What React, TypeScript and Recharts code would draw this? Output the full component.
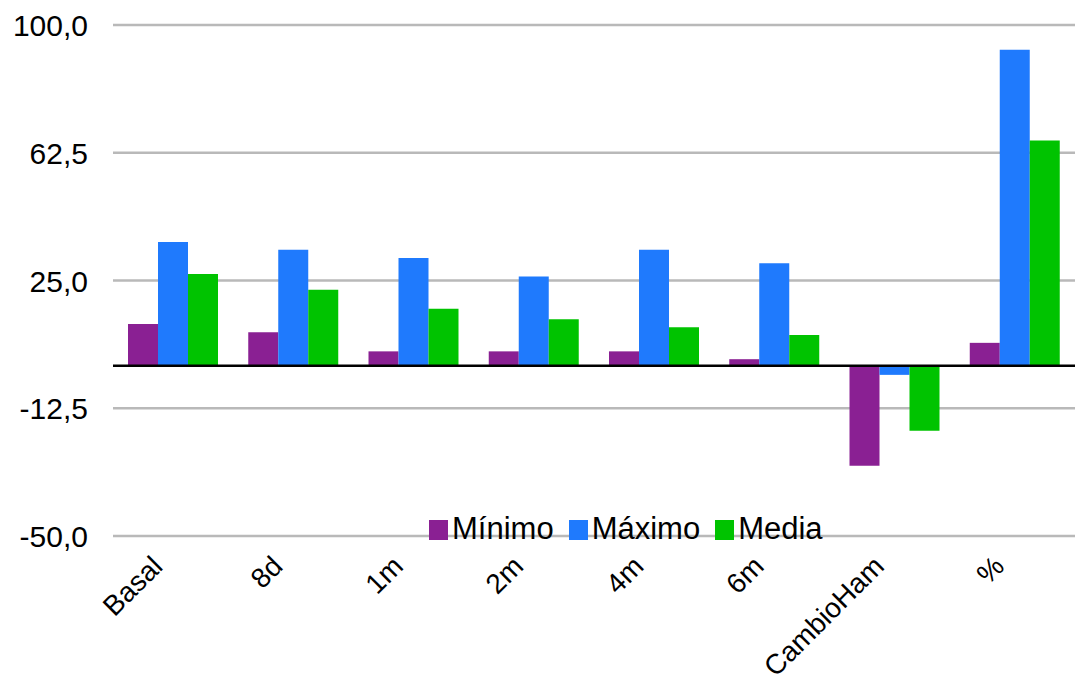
import {
  BarChart,
  Bar,
  XAxis,
  YAxis,
  CartesianGrid,
  ReferenceLine,
  Legend,
} from 'recharts'

const categories = ['Basal', '8d', '1m', '2m', '4m', '6m', 'CambioHam', '%']
const minimo = [12.2, 9.8, 4.2, 4.2, 4.2, 1.9, -29.4, 6.7]
const maximo = [36.3, 34.0, 31.6, 26.2, 34.0, 30.1, -2.7, 92.7]
const media = [26.9, 22.3, 16.7, 13.6, 11.3, 9.0, -19.1, 66.1]
const yTicks = [-50, -12.5, 25, 62.5, 100]

const seriesInfo = [
  { key: 'minimo', name: 'Mínimo', color: '#8a2093' },
  { key: 'maximo', name: 'Máximo', color: '#1f7afd' },
  { key: 'media', name: 'Media', color: '#00c300' },
]

const chartData = categories.map((cat, i) => ({
  cat,
  minimo: minimo[i],
  maximo: maximo[i],
  media: media[i],
}))

const FONT = '"Liberation Sans", Arial, Helvetica, sans-serif'

const YTick = (props: any) => {
  const { x, y, payload } = props
  return (
    <text
      x={x - 17}
      y={y}
      dy={11}
      textAnchor="end"
      fontSize={30}
      fontFamily={FONT}
      fill="#000"
    >
      {payload.value.toFixed(1).replace('.', ',')}
    </text>
  )
}

// rotated category labels, anchored just left of the category centre
const XTick = (props: any) => {
  const { x, y, payload } = props
  return (
    <g transform={`translate(${x - 9},${y + 24})`}>
      <text
        transform="rotate(-45)"
        textAnchor="end"
        fontSize={28}
        fontFamily={FONT}
        fill="#000"
      >
        {payload.value}
      </text>
    </g>
  )
}

const LegendContent = () => (
  <div
    style={{
      fontFamily: FONT,
      fontSize: 31,
      lineHeight: '36px',
      color: '#000',
      whiteSpace: 'nowrap',
    }}
  >
    {seriesInfo.map((s) => (
      <span key={s.key} style={{ marginRight: 15 }}>
        <span
          style={{
            display: 'inline-block',
            width: 19,
            height: 20,
            background: s.color,
            marginRight: 4,
            verticalAlign: 'baseline',
            position: 'relative',
            top: 1,
          }}
        />
        {s.name}
      </span>
    ))}
  </div>
)

export default function App() {
  return (
    <div style={{ position: 'absolute', left: 0, top: 0, background: '#fff' }}>
      <BarChart
        width={1075}
        height={682}
        data={chartData}
        margin={{ top: 25, right: 0, left: 0, bottom: 0 }}
        barGap={0}
      >
        <CartesianGrid vertical={false} stroke="#b9b9b9" strokeWidth={2.5} />
        <XAxis
          dataKey="cat"
          axisLine={false}
          tickLine={false}
          height={146}
          interval={0}
          tick={<XTick />}
        />
        <YAxis
          domain={[-50, 100]}
          ticks={yTicks}
          width={113}
          axisLine={false}
          tickLine={false}
          interval={0}
          tick={<YTick />}
        />
        <Legend
          verticalAlign="middle"
          align="center"
          content={<LegendContent />}
          wrapperStyle={{ left: 429, top: 511, width: 'auto', height: 'auto' }}
        />
        {seriesInfo.map((s) => (
          <Bar
            key={s.key}
            dataKey={s.key}
            name={s.name}
            fill={s.color}
            barSize={30}
            isAnimationActive={false}
          />
        ))}
        <ReferenceLine y={0} stroke="#000" strokeWidth={2.5} />
      </BarChart>
    </div>
  )
}
